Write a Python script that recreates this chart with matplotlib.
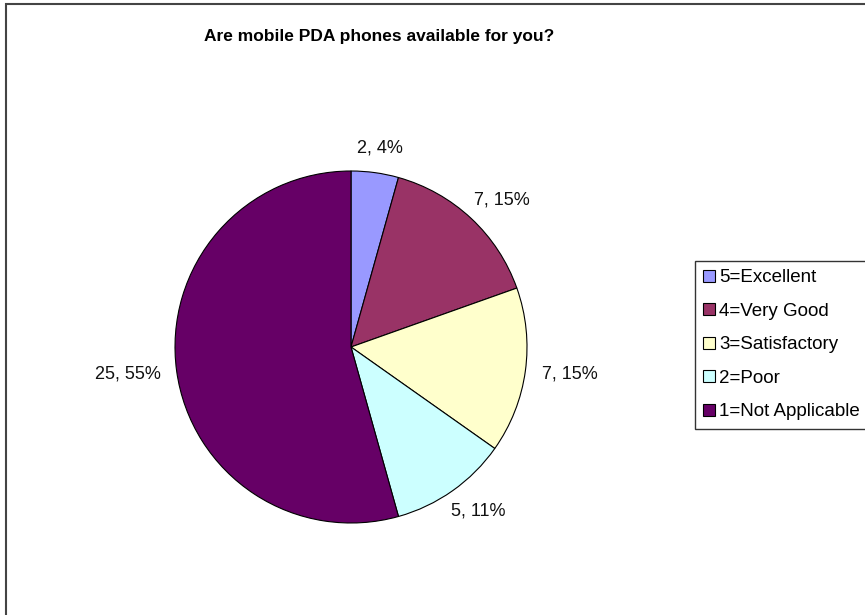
import numpy as np
import matplotlib.pyplot as plt
from matplotlib.patches import Rectangle

plt.rcParams['font.family'] = ['Liberation Sans', 'DejaVu Sans']

categories = ["5=Excellent", "4=Very Good", "3=Satisfactory", "2=Poor", "1=Not Applicable"]
counts = [2, 7, 7, 5, 25]
pct_labels = ["4%", "15%", "15%", "11%", "55%"]
colors = ["#9999FF", "#993366", "#FFFFCC", "#CCFFFF", "#660066"]

W, H = 865, 615
fig = plt.figure(figsize=(W / 100, H / 100), dpi=100)

# chart frame (cut off on the right and bottom, like the screenshot)
fig.patches.append(Rectangle((6 / W, -0.1), 1.2, (H - 4) / H + 0.1, transform=fig.transFigure,
                             fill=False, edgecolor="#444444", linewidth=1.5))

fig.text(379 / W, 1 - 37 / H, "Are mobile PDA phones available for you?",
         ha="center", va="center", fontsize=12.5, fontweight="bold")

cx, cy, r = 351, 347, 176
ax = fig.add_axes([(cx - r) / W, (H - cy - r) / H, 2 * r / W, 2 * r / H])
wedges, _ = ax.pie(counts, colors=colors, startangle=90, counterclock=False,
                   wedgeprops=dict(edgecolor="black", linewidth=0.8))
ax.set_xlim(-1, 1)
ax.set_ylim(-1, 1)
ax.set_aspect("equal")
ax.axis("off")

# data labels: text box sits just outside the rim, along the slice's mid angle
renderer = fig.canvas.get_renderer()
gap = 0.095
for w, c, p in zip(wedges, counts, pct_labels):
    ang = np.deg2rad((w.theta1 + w.theta2) / 2)
    t = ax.text(0, 0, f"{c}, {p}", ha="center", va="center", fontsize=13, color="#111111")
    bb = t.get_window_extent(renderer)
    hw, hh = bb.width / 2 / r, bb.height / 2 / r
    t.set_position((np.cos(ang) * (1 + gap + hw), np.sin(ang) * (1 + gap + hh)))

leg = fig.legend(wedges, categories, loc="upper left",
                 bbox_to_anchor=(695 / W, 1 - 261 / H), fontsize=13.5,
                 frameon=True, fancybox=False, edgecolor="black",
                 handlelength=0.6, handleheight=0.6, handletextpad=0.25,
                 labelspacing=0.88, borderpad=0.45, borderaxespad=0)
leg.get_frame().set_linewidth(1.0)

fig.savefig("out.png", dpi=100)
